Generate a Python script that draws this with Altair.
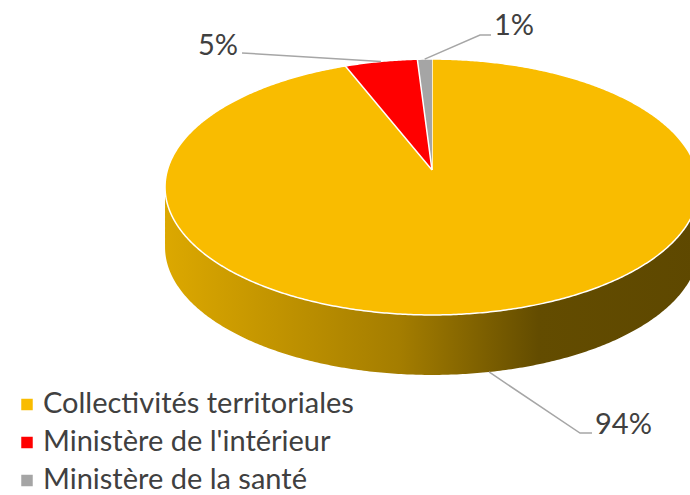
import altair as alt
import numpy as np
import pandas as pd

# ---- data ----
categories = ["Collectivités territoriales", "Ministère de l'intérieur", "Ministère de la santé"]
values = [94, 5, 1]
colors = ["#F9BC00", "#FF0000", "#A5A5A5"]
pct_labels = ["94%", "5%", "1%"]

# ---- layout (pixels) ----
W, H = 690, 495
CX, CY = 432, 170          # pie centre on top face
A, B, K = 264.6, 125.7, 0.1328   # perspective ellipse params
DEPTH = 60
FONT = "Lato"
FS = 29
TXT = "#404040"

def proj(theta_deg, dy=0.0):
    t = np.radians(theta_deg)
    u, v = np.sin(t), np.cos(t)
    d = 1 + K * v
    return CX + A * u / d, CY - B * v / d + dy

total = float(sum(values))
ends = np.cumsum(values) / total * 360
starts = np.concatenate([[0], ends[:-1]])

# top-face slices
rows = []
for c, s, e in zip(categories, starts, ends):
    n = max(int((e - s) * 2), 6)
    pts = [(CX, CY)] + [proj(t) for t in np.linspace(s, e, n)]
    for j, (x, y) in enumerate(pts):
        rows.append(dict(cat=c, ord=j, x=x, y=y))
top_df = pd.DataFrame(rows)

# side wall (visible front part)
t1 = np.degrees(np.arccos(-K))
t2 = 360 - t1
th = np.linspace(t1, t2, 300)
wall_pts = [proj(t) for t in th] + [proj(t, DEPTH) for t in th[::-1]]
wall_df = pd.DataFrame([dict(ord=j, x=x, y=y) for j, (x, y) in enumerate(wall_pts)])

# label leaders
mids = (starts + ends) / 2
leader_rows = []
text_rows = []
# yellow: from wall bottom
p0 = proj(mids[0], DEPTH)
for j, (x, y) in enumerate([p0, (580, 433), (592, 433)]):
    leader_rows.append(dict(lab=pct_labels[0], ord=j, x=x, y=y))
text_rows.append(dict(lab=pct_labels[0], x=595, y=434, al="left"))
# red
p1 = proj(mids[1])
for j, (x, y) in enumerate([p1, (242, 53)]):
    leader_rows.append(dict(lab=pct_labels[1], ord=j, x=x, y=y))
text_rows.append(dict(lab=pct_labels[1], x=238, y=55, al="right"))
# gray
p2 = proj(mids[2])
for j, (x, y) in enumerate([p2, (480, 35), (491, 35)]):
    leader_rows.append(dict(lab=pct_labels[2], ord=j, x=x, y=y))
text_rows.append(dict(lab=pct_labels[2], x=494, y=35, al="left"))
leader_df = pd.DataFrame(leader_rows)
text_df = pd.DataFrame(text_rows)

# legend
leg_df = pd.DataFrame(dict(cat=categories, col=colors,
                           ys=[404.5 + 38 * i for i in range(3)],
                           yt=[413 + 38 * i for i in range(3)]))

X = alt.X("x:Q", scale=alt.Scale(domain=[0, W], nice=False, zero=False), axis=None)
def Yf(field):
    return alt.Y(field, scale=alt.Scale(domain=[H, 0], nice=False, zero=False), axis=None)
Y = Yf("y:Q")

wall = alt.Chart(wall_df).mark_line(
    fill=alt.LinearGradient(
        gradient="linear",
        stops=[alt.GradientStop(offset=0, color="#DCA800"),
               alt.GradientStop(offset=0.44, color="#A47D00"),
               alt.GradientStop(offset=0.70, color="#634C00"),
               alt.GradientStop(offset=1, color="#5E4800")],
        x1=0, x2=1, y1=0, y2=0),
    strokeOpacity=0, clip=True,
).encode(x=X, y=Y, order=alt.Order("ord:Q"))

layers = [wall]
for c, col in zip(categories, colors):
    layers.append(
        alt.Chart(top_df).transform_filter(alt.datum.cat == c).mark_line(
            fill=col, stroke="white", strokeWidth=1.5, strokeJoin="miter", clip=True
        ).encode(x=X, y=Y, order=alt.Order("ord:Q"))
    )

leaders = alt.Chart(leader_df).mark_line(color="#A6A6A6", strokeWidth=1.5).encode(
    x=X, y=Y, detail="lab:N", order=alt.Order("ord:Q"))

labels_l = alt.Chart(text_df).transform_filter(alt.datum.al == "left").mark_text(
    align="left", baseline="alphabetic", font=FONT, fontSize=FS, color=TXT
).encode(x=X, y=Y, text="lab:N")
labels_r = alt.Chart(text_df).transform_filter(alt.datum.al == "right").mark_text(
    align="right", baseline="alphabetic", font=FONT, fontSize=FS, color=TXT
).encode(x=X, y=Y, text="lab:N")

leg_sq = alt.Chart(leg_df).mark_square(size=132, opacity=1).encode(
    x=alt.value(27), y=Yf("ys:Q"),
    color=alt.Color("col:N", scale=None))
leg_txt = alt.Chart(leg_df).mark_text(
    align="left", baseline="alphabetic", font=FONT, fontSize=FS, color=TXT
).encode(x=alt.value(43), y=Yf("yt:Q"), text="cat:N")

chart = alt.layer(*layers, leaders, labels_l, labels_r, leg_sq, leg_txt).properties(
    width=W, height=H, padding=0, autosize=alt.AutoSizeParams(type="none")
).configure_view(stroke=None)

chart.save("out.html", embed_options={"renderer": "svg", "actions": False})
